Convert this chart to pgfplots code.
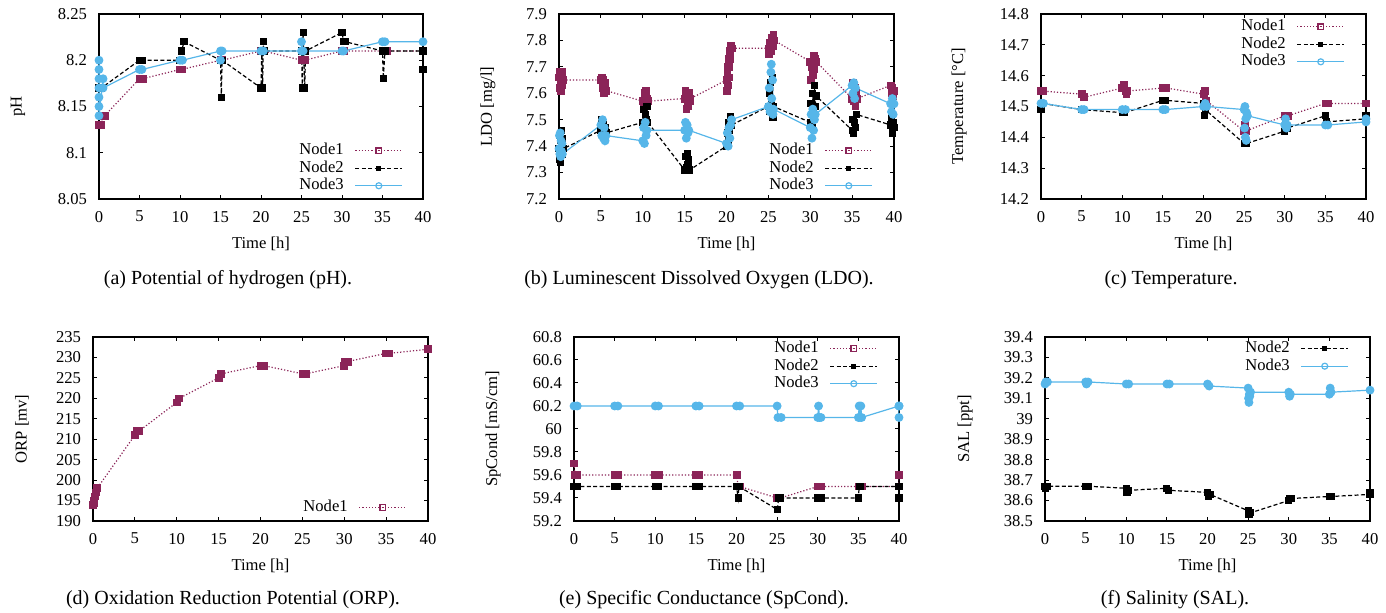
\documentclass[border=0pt]{standalone}
\usepackage{fontspec}
\setmainfont{Liberation Serif}
\usepackage{pgfplots}
\pgfplotsset{compat=1.18}

\definecolor{nodeA}{RGB}{139,36,88}
\definecolor{nodeC}{RGB}{86,182,233}

\newcommand{\tf}{\fontsize{8.3}{9}\selectfont}

\pgfplotsset{
  gp/.style={
    scale only axis, height=92.5pt,
    xmin=0, xmax=40, xtick={0,5,...,40},
    tick align=inside, major tick length=2.2pt,
    axis line style={line width=0.8pt},
    tick style={black, line width=0.5pt},
    ticklabel style={font=\tf},
    yticklabel style={xshift=-2.5pt},
    xticklabel style={yshift=-2.5pt},
    /pgf/number format/assume math mode=true,
    xlabel={Time [h]},
    xlabel style={font=\tf, at={(axis description cs:0.5,-0.245)}, anchor=center},
    ylabel style={font=\tf, anchor=center},
    legend plot pos=right, legend cell align=right,
    legend style={draw=none, fill=none, font=\tf, inner sep=0pt, outer sep=0pt,
      column sep=5pt, row sep=0pt,
      nodes={inner sep=0.5pt, text height=5.9pt, text depth=1.85pt}},
    legend image code/.code={\draw[mark repeat=2,mark phase=2] plot coordinates {(0pt,0pt)(11.75pt,0pt)(23.5pt,0pt)};},
  },
  n1/.style={nodeA, line width=0.6pt, dash pattern=on 0.6pt off 1pt, mark=square*, mark size=1.7pt, mark options={solid, fill=nodeA, line width=0.4pt}},
  n2/.style={black, line width=0.6pt, dash pattern=on 2pt off 1.2pt, mark=square*, mark size=1.5pt, mark options={solid, fill=black}},
  n3/.style={nodeC, line width=0.6pt, solid, mark=*, mark size=1.9pt, mark options={solid, fill=nodeC}},
  l1/.style={nodeA, line width=0.6pt, dash pattern=on 0.6pt off 1pt, mark=square, mark size=1.4pt, mark options={solid}},
  l2/.style={black, line width=0.6pt, dash pattern=on 2pt off 1.2pt, mark=square*, mark size=1pt, mark options={solid}},
  l3/.style={nodeC, line width=0.6pt, solid, mark=o, mark size=1.5pt, mark options={solid}},
}

\begin{document}
\begin{tikzpicture}
\useasboundingbox (0,0) rectangle (693pt,306.5pt);

% (a) pH
\begin{axis}[gp, at={(49.5pt,207pt)}, anchor=south west, width=162pt,
  ymin=8.05, ymax=8.25, ytick={8.05,8.1,8.15,8.2,8.25},
  ylabel={pH}, ylabel style={at={(axis description cs:-0.25,0.5)}},
  legend style={at={(axis description cs:0.938,0.308)}, anchor=north east}]
\addplot[n1, forget plot] coordinates {(0,8.13)(0.2,8.13)(0.5,8.14)(0.7,8.14)(5,8.18)(5.4,8.18)(10,8.19)(10.2,8.19)(15,8.20)(15.2,8.20)(20,8.21)(20.3,8.21)(25,8.20)(25.4,8.20)(30,8.21)(30.3,8.21)(35,8.21)(35.5,8.21)(40,8.21)};
\addplot[n2, forget plot] coordinates {(0,8.17)(0.3,8.17)(5,8.20)(5.3,8.20)(10,8.20)(10.2,8.21)(10.5,8.22)(15,8.20)(15.1,8.16)(15.2,8.20)(20,8.17)(20.1,8.21)(20.2,8.17)(20.3,8.22)(20.4,8.21)(25,8.21)(25.1,8.17)(25.2,8.23)(25.4,8.17)(25.5,8.21)(30,8.23)(30.2,8.22)(30.4,8.22)(35,8.21)(35.1,8.18)(35.3,8.21)(40,8.21)(40,8.19)(40,8.21)};
\addplot[n3, forget plot] coordinates {(0,8.20)(0,8.19)(0,8.18)(0,8.17)(0,8.16)(0,8.15)(0,8.14)(0.5,8.18)(0.5,8.17)(5,8.19)(5.3,8.19)(10,8.20)(10.3,8.20)(15,8.21)(15,8.20)(15.2,8.21)(20,8.21)(20.3,8.21)(25,8.21)(25,8.22)(25.2,8.21)(30,8.21)(30.2,8.21)(35,8.22)(35.3,8.22)(40,8.22)};
\addlegendimage{l1}\addlegendentry{Node1}
\addlegendimage{l2}\addlegendentry{Node2}
\addlegendimage{l3}\addlegendentry{Node3}
\end{axis}

% (b) LDO
\begin{axis}[gp, at={(279.5pt,207pt)}, anchor=south west, width=167.5pt,
  ymin=7.2, ymax=7.9, ytick={7.2,7.3,7.4,7.5,7.6,7.7,7.8,7.9},
  ylabel={LDO [mg/l]}, ylabel style={at={(axis description cs:-0.212,0.5)}},
  legend style={at={(axis description cs:0.937,0.308)}, anchor=north east}]
\addplot[n1, forget plot] coordinates {(0,7.66)(0.05,7.68)(0.1,7.62)(0.15,7.67)(0.2,7.61)(0.25,7.64)(0.3,7.68)(0.35,7.63)(0.4,7.66)(0.5,7.65)
 (5,7.65)(5.1,7.66)(5.2,7.62)(5.3,7.65)(5.4,7.60)(5.5,7.64)(5.6,7.61)
 (10,7.57)(10.1,7.55)(10.2,7.60)(10.3,7.56)(10.4,7.61)(10.5,7.58)(10.6,7.57)
 (15,7.58)(15.1,7.61)(15.2,7.54)(15.3,7.59)(15.4,7.55)(15.5,7.60)(15.6,7.57)(15.7,7.58)
 (20,7.65)(20.05,7.61)(20.1,7.67)(20.15,7.63)(20.2,7.70)(20.25,7.66)(20.3,7.73)(20.35,7.70)(20.4,7.76)(20.45,7.73)(20.5,7.78)(20.6,7.77)
 (25,7.77)(25.1,7.75)(25.2,7.79)(25.3,7.76)(25.4,7.81)(25.5,7.78)(25.6,7.82)(25.7,7.80)
 (30,7.72)(30.1,7.65)(30.2,7.70)(30.3,7.67)(30.4,7.74)(30.5,7.69)(30.6,7.73)(30.7,7.72)
 (35,7.58)(35.1,7.64)(35.2,7.57)(35.3,7.62)(35.4,7.55)(35.5,7.60)(35.6,7.58)
 (39.6,7.63)(39.7,7.60)(39.8,7.62)(39.9,7.59)(40,7.61)};
\addplot[n2, forget plot] coordinates {(0,7.39)(0.05,7.44)(0.1,7.35)(0.15,7.42)(0.2,7.34)(0.25,7.46)(0.3,7.38)(0.35,7.43)(0.4,7.37)(0.5,7.39)
 (5,7.46)(5.1,7.50)(5.2,7.44)(5.3,7.48)(5.4,7.43)(5.5,7.47)(5.6,7.45)
 (10,7.49)(10.1,7.54)(10.2,7.47)(10.3,7.52)(10.4,7.50)(10.5,7.55)(10.6,7.49)
 (15,7.31)(15.1,7.36)(15.2,7.32)(15.3,7.37)(15.4,7.33)(15.5,7.35)(15.6,7.31)
 (20,7.40)(20.1,7.45)(20.2,7.42)(20.3,7.49)(20.4,7.46)(20.5,7.51)(20.6,7.48)
 (25,7.55)(25.1,7.60)(25.2,7.53)(25.3,7.64)(25.4,7.57)(25.5,7.66)(25.55,7.51)(25.6,7.55)
 (30,7.49)(30.1,7.56)(30.2,7.47)(30.3,7.60)(30.4,7.53)(30.5,7.63)(30.6,7.55)(30.7,7.59)
 (35,7.46)(35.1,7.50)(35.2,7.45)(35.3,7.49)(35.4,7.47)(35.5,7.52)
 (39.6,7.48)(39.7,7.51)(39.8,7.45)(39.9,7.49)(40,7.47)};
\addplot[n3, forget plot] coordinates {(0,7.39)(0.05,7.44)(0.1,7.37)(0.15,7.45)(0.2,7.36)(0.25,7.42)(0.3,7.38)(0.35,7.41)(0.4,7.37)
 (5,7.48)(5.1,7.44)(5.2,7.50)(5.3,7.43)(5.4,7.47)(5.5,7.42)(5.6,7.44)
 (10,7.42)(10.1,7.47)(10.2,7.41)(10.3,7.49)(10.4,7.44)(10.5,7.46)
 (15,7.46)(15.1,7.49)(15.2,7.43)(15.3,7.48)(15.4,7.45)(15.5,7.46)
 (20,7.41)(20.1,7.45)(20.2,7.40)(20.3,7.47)(20.4,7.43)(20.5,7.48)(20.6,7.50)
 (25,7.55)(25.1,7.62)(25.2,7.53)(25.3,7.68)(25.35,7.71)(25.4,7.58)(25.5,7.65)(25.55,7.52)(25.6,7.54)
 (30,7.47)(30.1,7.52)(30.2,7.43)(30.3,7.54)(30.4,7.46)(30.5,7.50)(30.6,7.52)
 (35,7.63)(35.1,7.60)(35.2,7.64)(35.3,7.58)(35.4,7.62)
 (39.6,7.56)(39.7,7.53)(39.8,7.58)(39.9,7.52)(40,7.56)};
\addlegendimage{l1}\addlegendentry{Node1}
\addlegendimage{l2}\addlegendentry{Node2}
\addlegendimage{l3}\addlegendentry{Node3}
\end{axis}

% (c) Temperature
\begin{axis}[gp, at={(520.5pt,207pt)}, anchor=south west, width=162.5pt,
  ymin=14.2, ymax=14.8, ytick={14.2,14.3,14.4,14.5,14.6,14.7,14.8},
  ylabel={Temperature [°C]}, ylabel style={at={(axis description cs:-0.252,0.5)}},
  legend style={at={(axis description cs:0.935,0.978)}, anchor=north east}]
\addplot[n1, forget plot] coordinates {(0,14.55)(0.3,14.55)(5,14.54)(5.3,14.53)(10,14.56)(10.2,14.57)(10.4,14.55)(10.5,14.54)(10.6,14.55)(15,14.56)(15.4,14.56)(20,14.54)(20.2,14.55)(20.3,14.52)(25,14.42)(25.1,14.44)(25.2,14.42)(30,14.47)(30.4,14.47)(35,14.51)(35.3,14.51)(40,14.51)};
\addplot[n2, forget plot] coordinates {(0,14.49)(0.2,14.51)(5,14.49)(10,14.48)(10.3,14.48)(15,14.52)(15.3,14.52)(20,14.51)(20.1,14.47)(20.2,14.49)(25,14.38)(25.3,14.38)(30,14.42)(30.1,14.44)(30.3,14.43)(35,14.47)(35.1,14.45)(40,14.46)(40,14.47)};
\addplot[n3, forget plot] coordinates {(0,14.51)(0.3,14.51)(5,14.49)(5.3,14.49)(10,14.49)(10.4,14.49)(15,14.49)(15.3,14.49)(20,14.50)(20.2,14.51)(20.4,14.50)(25,14.49)(25.05,14.43)(25.1,14.50)(25.15,14.40)(25.2,14.46)(25.25,14.39)(25.3,14.48)(25.4,14.47)(30,14.44)(30.1,14.46)(30.2,14.43)(30.3,14.44)(35,14.44)(35.3,14.44)(40,14.45)(40,14.46)};
\addlegendimage{l1}\addlegendentry{Node1}
\addlegendimage{l2}\addlegendentry{Node2}
\addlegendimage{l3}\addlegendentry{Node3}
\end{axis}

% (d) ORP
\begin{axis}[gp, at={(46.5pt,46pt)}, anchor=south west, width=167.5pt, height=92pt,
  ymin=190, ymax=235, ytick={190,195,...,235},
  ylabel={ORP [mv]}, ylabel style={at={(axis description cs:-0.212,0.5)}},
  legend style={at={(axis description cs:0.937,0.12)}, anchor=north east}]
\addplot[n1, forget plot] coordinates {(0,194)(0.1,195)(0.15,194.5)(0.2,196)(0.3,197)(0.4,198)(0.5,198)(5,211)(5.2,212)(5.5,212)(10,219)(10.3,220)(15,225)(15.3,226)(20,228)(20.4,228)(25,226)(25.4,226)(30,228)(30.1,229)(30.4,229)(35,231)(35.4,231)(40,232)};
\addlegendimage{l1}\addlegendentry{Node1}
\end{axis}

% (e) SpCond
\begin{axis}[gp, at={(287pt,46pt)}, anchor=south west, width=162.5pt, height=92pt,
  ymin=59.2, ymax=60.8, ytick={59.2,59.4,59.6,59.8,60,60.2,60.4,60.6,60.8},
  ylabel={SpCond [mS/cm]}, ylabel style={at={(axis description cs:-0.249,0.5)}},
  legend style={at={(axis description cs:0.935,0.984)}, anchor=north east}]
\addplot[n1, forget plot] coordinates {(0,59.7)(0.1,59.6)(0.4,59.6)(5,59.6)(5.4,59.6)(10,59.6)(10.4,59.6)(15,59.6)(15.4,59.6)(20,59.6)(20.2,59.5)(20.4,59.5)(25,59.4)(25.4,59.4)(30,59.5)(30.4,59.5)(35,59.5)(35.4,59.5)(40,59.5)(40,59.6)};
\addplot[n2, forget plot] coordinates {(0,59.5)(0.4,59.5)(5,59.5)(5.4,59.5)(10,59.5)(10.4,59.5)(15,59.5)(15.4,59.5)(20,59.5)(20.2,59.4)(20.3,59.5)(25,59.3)(25.2,59.4)(25.4,59.4)(30,59.4)(30.4,59.4)(35,59.4)(35.1,59.5)(35.3,59.5)(40,59.5)(40,59.4)(40,59.5)};
\addplot[n3, forget plot] coordinates {(0,60.2)(0.4,60.2)(5,60.2)(5.4,60.2)(10,60.2)(10.4,60.2)(15,60.2)(15.4,60.2)(20,60.2)(20.4,60.2)(25,60.2)(25.1,60.1)(25.5,60.1)(30,60.1)(30.1,60.2)(30.2,60.1)(30.4,60.1)(35,60.1)(35.1,60.2)(35.2,60.1)(35.3,60.2)(35.4,60.1)(40,60.2)(40,60.1)(40,60.2)};
\addlegendimage{l1}\addlegendentry{Node1}
\addlegendimage{l2}\addlegendentry{Node2}
\addlegendimage{l3}\addlegendentry{Node3}
\end{axis}

% (f) Salinity
\begin{axis}[gp, at={(522.5pt,46pt)}, anchor=south west, width=162.5pt, height=92pt,
  ymin=38.5, ymax=39.4, ytick={38.5,38.6,38.7,38.8,38.9,39,39.1,39.2,39.3,39.4},
  ylabel={SAL [ppt]}, ylabel style={at={(axis description cs:-0.246,0.5)}},
  legend style={at={(axis description cs:0.935,0.984)}, anchor=north east}]
\addplot[n2, forget plot] coordinates {(0,38.67)(0.1,38.66)(0.3,38.67)(5,38.67)(5.3,38.67)(10,38.66)(10.1,38.64)(10.3,38.65)(15,38.66)(15.2,38.65)(20,38.64)(20.1,38.62)(20.3,38.63)(25,38.55)(25.1,38.53)(25.3,38.54)(30,38.60)(30.1,38.61)(30.3,38.61)(35,38.62)(35.3,38.62)(40,38.63)(40,38.64)};
\addplot[n3, forget plot] coordinates {(0,39.17)(0.1,39.18)(0.3,39.18)(5,39.18)(5.1,39.17)(5.3,39.18)(10,39.17)(10.3,39.17)(15,39.17)(15.3,39.17)(20,39.17)(20.2,39.16)(25,39.15)(25.05,39.10)(25.1,39.08)(25.15,39.12)(25.2,39.11)(25.3,39.13)(30,39.13)(30.1,39.11)(30.2,39.12)(35,39.12)(35.1,39.15)(35.2,39.13)(40,39.14)};
\addlegendimage{l2}\addlegendentry{Node2}
\addlegendimage{l3}\addlegendentry{Node3}
\end{axis}

% sub-captions
\begin{scope}[every node/.style={font=\fontsize{10}{12}\selectfont, anchor=center}]
\node at (114pt,166.5pt) {(a) Potential of hydrogen (pH).};
\node at (349.5pt,166.5pt) {(b) Luminescent Dissolved Oxygen (LDO).};
\node at (585.5pt,166.5pt) {(c) Temperature.};
\node at (116.5pt,6.5pt) {(d) Oxidation Reduction Potential (ORP).};
\node at (352pt,6.5pt) {(e) Specific Conductance (SpCond).};
\node at (587.5pt,6.5pt) {(f) Salinity (SAL).};
\end{scope}
\end{tikzpicture}
\end{document}
